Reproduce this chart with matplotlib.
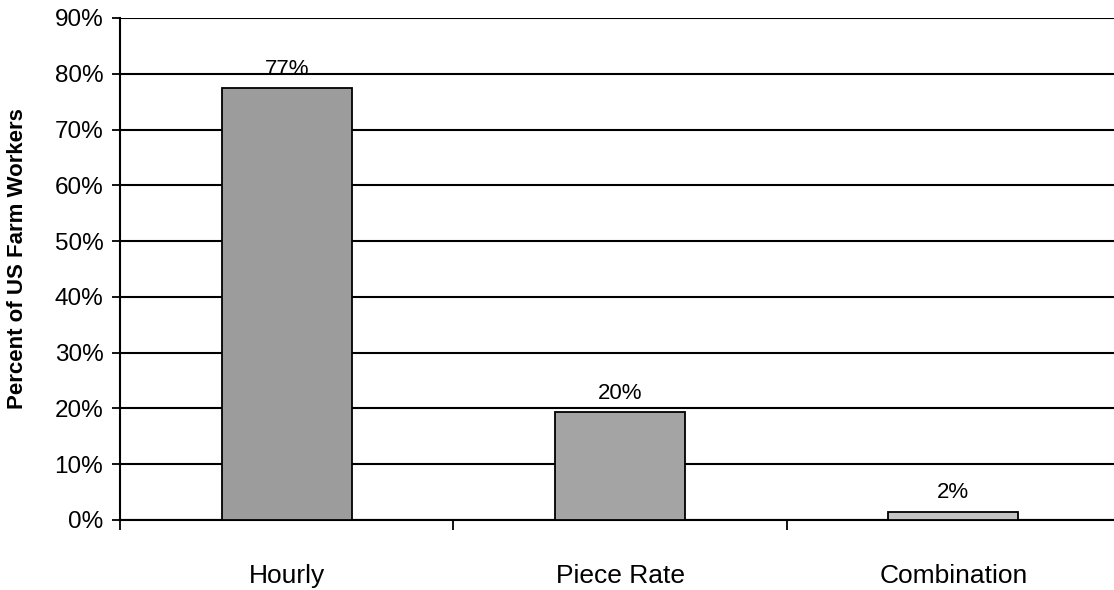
import matplotlib
matplotlib.use("Agg")
import matplotlib.pyplot as plt
import numpy as np

categories = ["Hourly", "Piece Rate", "Combination"]
values = [77.4, 19.3, 1.5]
value_labels = ["77%", "20%", "2%"]
bar_colors = ["#9c9c9c", "#a4a4a4", "#c4c4c4"]
yticks = [0, 10, 20, 30, 40, 50, 60, 70, 80, 90]

plt.rcParams['font.family'] = ['Liberation Sans', 'DejaVu Sans']

fig = plt.figure(figsize=(11.14, 5.90), dpi=100)
ax = fig.add_axes([120/1114, 70/590, 1000/1114, 502/590])

x = np.arange(len(categories)) + 0.5
ax.bar(x, values, width=0.39, color=bar_colors, edgecolor="black", linewidth=1.3, zorder=3)

for xi, v, lab in zip(x, values, value_labels):
    ax.annotate(lab, (xi, v), xytext=(0, 6), textcoords="offset points",
                ha="center", va="bottom", fontsize=16)

ax.set_xlim(0, 3)
ax.set_ylim(0, 90)
ax.set_yticks(yticks)
ax.set_yticklabels([f"{t}%" for t in yticks], fontsize=17.5)
for t in yticks:
    ax.axhline(t, color="black", linewidth=1.5, zorder=1)

ax.set_xticks(x)
ax.set_xticklabels(categories, fontsize=19)
ax.tick_params(axis="x", which="major", length=0, pad=32)
ax.set_xticks([0, 1, 2, 3], minor=True)
ax.tick_params(axis="x", which="minor", length=7, width=1.3, direction="out")
ax.tick_params(axis="y", length=6, width=1.3, direction="out", pad=6)

for s in ["top", "right"]:
    ax.spines[s].set_visible(False)
ax.spines["left"].set_linewidth(1.5)
ax.spines["bottom"].set_linewidth(1.5)

ax.set_ylabel("Percent of US Farm Workers", fontsize=16, fontweight="bold")
ax.yaxis.set_label_coords(-0.092, 0.52)

fig.savefig("out.png", dpi=100)
